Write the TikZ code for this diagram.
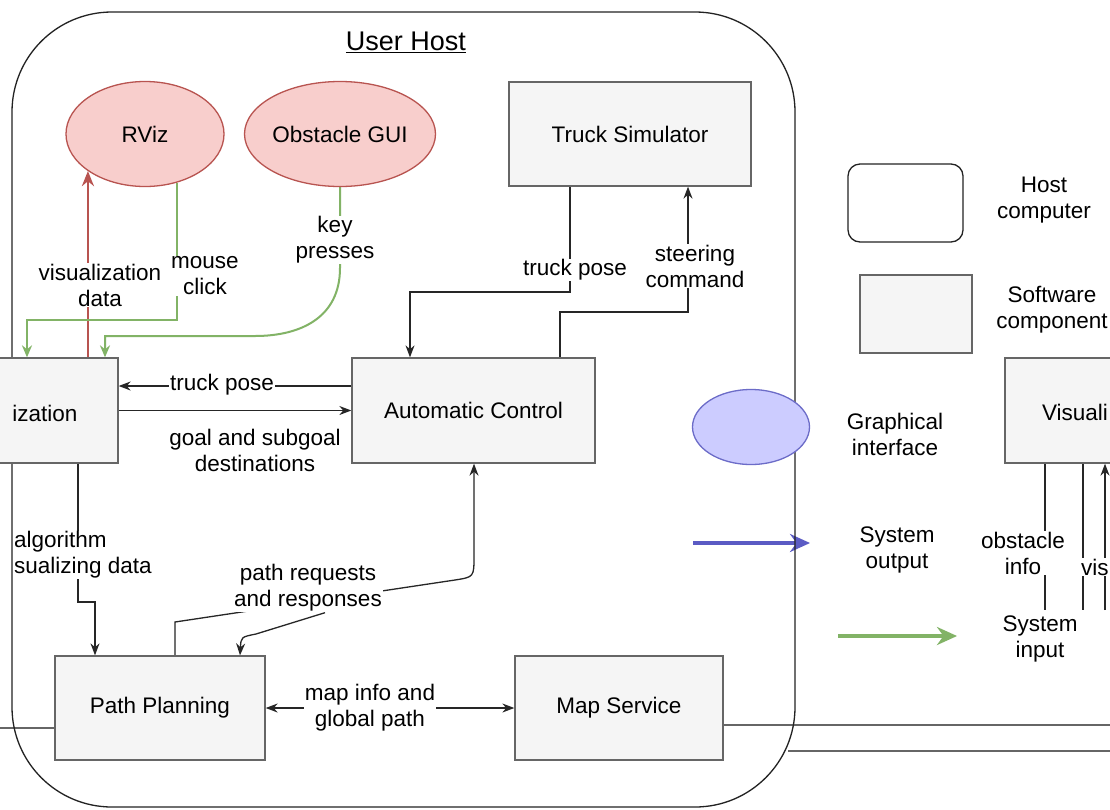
\documentclass[tikz,border=0pt]{standalone}
\usepackage{fontspec}
\setmainfont{Liberation Sans}
\usetikzlibrary{arrows.meta,shapes.geometric,backgrounds}

\definecolor{compfill}{HTML}{F5F5F5}
\definecolor{compline}{HTML}{666666}
\definecolor{guifill}{HTML}{F8CECC}
\definecolor{guiline}{HTML}{B85450}
\definecolor{ifacefill}{HTML}{CCCCFF}
\definecolor{ifaceline}{HTML}{6C6CC8}
\definecolor{outblue}{HTML}{5B5BC4}
\definecolor{ingreen}{HTML}{82B366}
\definecolor{hostline}{HTML}{222222}

\begin{document}
\begin{tikzpicture}[x=1pt, y=-1pt,
  every node/.style={font=\fontsize{22.5}{26}\selectfont, text=black},
  host/.style={draw=hostline, line width=1.3pt, rounded corners=#1, inner sep=0pt},
  comp/.style={draw=compline, fill=compfill, line width=1.3pt, inner sep=0pt, align=center},
  gui/.style={ellipse, draw=guiline, fill=guifill, line width=1.3pt, inner sep=0pt,
              minimum width=158pt, minimum height=105pt},
  lbl/.style={fill=white, inner sep=1pt, align=center},
  wire/.style={draw=black!85, line width=1.3pt},
  arr/.style={wire, -{Stealth[length=12pt,width=9pt]}},
  biarr/.style={wire, {Stealth[length=12pt,width=9pt]}-{Stealth[length=12pt,width=9pt]}},
  inwire/.style={draw=ingreen, line width=2pt},
  inarr/.style={inwire, -{Stealth[length=12pt,width=10pt]}},
  redarr/.style={draw=guiline, line width=2.6pt, -{Stealth[length=15pt,width=12pt]}},
  bus/.style={draw=compline, line width=1.3pt},
  legout/.style={draw=outblue, line width=3.5pt, -{Stealth[length=20pt,width=18pt]}},
  legin/.style={draw=ingreen, line width=3.5pt, -{Stealth[length=20pt,width=18pt]}}]

\path[use as bounding box] (0,0) rectangle (1110,809);
\clip (0,0) rectangle (1110,809);

% ---------- user host container ----------
\node[host=100pt, minimum width=783pt, minimum height=795pt] (userhost) at (403.5,409.5) {};
\node[font=\fontsize{27}{32}\selectfont] (uhtitle) at (406,42) {\underline{User Host}};

% ---------- interfaces and components ----------
\node[gui] (rviz) at (145,134) {RViz};
\node[gui] (obst) at (340,134) {Obstacle GUI};
\node[comp, minimum width=242pt, minimum height=104pt] (ts) at (630,134) {Truck Simulator};
\node[comp, minimum width=210pt, minimum height=105pt] (visL) at (13,410.5) {};
\node (visLtxt) at (45,413) {ization};
\node[comp, minimum width=243pt, minimum height=105pt] (ac) at (473.5,410.5) {Automatic Control};
\node[comp, minimum width=210pt, minimum height=104pt] (pp) at (160,708) {Path Planning};
\node[comp, minimum width=208pt, minimum height=104pt] (ms) at (619,708) {Map Service};
\node[comp, minimum width=210pt, minimum height=105pt] (visR) at (1110,410.5) {};
\node (visRtxt) at (1075,412) {Visuali};

% ---------- connector labels ----------
\node[lbl] (vdlbl) at (100,285) {visualization\\data};
\node[lbl] (mclbl) at (205,276) {mouse\\click};
\node[lbl] (kplbl) at (335,240) {key\\presses};
\node[lbl] (tptop) at (575,270) {truck pose};
\node[lbl] (sclbl) at (695,266) {steering\\command};
\node[lbl] (tplbl) at (222,385) {truck pose};
\node[lbl] (gllbl) at (255,450) {goal and subgoal\\destinations};
\node[lbl, align=left, anchor=west] (allblL) at (13,555) {algorithm\\sualizing data};
\node[lbl, anchor=west] (allblR) at (1080,567) {vis};
\node[lbl] (oblbl) at (1023,553) {obstacle\\info};
\node[lbl] (prlbl) at (308,588) {path requests\\and responses};
\node[lbl] (milbl) at (370,708) {map info and\\global path};

% ---------- legend ----------
\node[host=12pt, minimum width=115pt, minimum height=78pt] (leghost) at (905.5,203) {};
\node (leghosttxt) at (1044,200) [align=center] {Host\\computer};
\node[comp, minimum width=112pt, minimum height=78pt] (legcomp) at (916,314) {};
\node (legcomptxt) at (1052,310) [align=center] {Software\\component};
\node[ellipse, draw=ifaceline, fill=ifacefill, line width=1.3pt, inner sep=0pt,
      minimum width=117pt, minimum height=75pt] (legif) at (751,427) {};
\node (legiftxt) at (895,434) [align=center] {Graphical\\interface};
\coordinate (outA) at (693,543);
\coordinate (outB) at (810,543);
\node (legouttxt) at (897,550) [align=center] {System\\output};
\coordinate (inA) at (838,636);
\coordinate (inB) at (957,636);
\node (legintxt) at (1040,639) [align=center] {System\\input};

\begin{pgfonlayer}{background}
  \fill[white] (0,0) rectangle (1110,809);

  % legend arrows
  \draw[legout] (outA) -- (outB);
  \draw[legin] (inA) -- (inB);

  % RViz <-> Visualization
  \draw[redarr] (rviz.213 |- visL.north) -- (rviz.213);
  \coordinate (mcTurn) at (27,320);
  \draw[inarr] (rviz.303) |- (mcTurn) -- (mcTurn |- visL.north);

  % Obstacle GUI key presses
  \coordinate (kpA) at (340,268);
  \coordinate (kpB) at (255,336);
  \coordinate (kpC) at (105,336);
  \draw[inarr] (obst.south) -- (kpA) .. controls (340,318) and (300,336) .. (kpB)
               -- (kpC) -- (kpC |- visL.north);

  % Truck Simulator <-> Automatic Control
  \coordinate (tpA) at (570,292);
  \coordinate (tpB) at (410,292);
  \draw[arr] (tpA |- ts.south) -- (tpA) -- (tpB) -- (tpB |- ac.north);
  \coordinate (scA) at (560,312);
  \coordinate (scB) at (688,312);
  \draw[arr] (scA |- ac.north) -- (scA) -- (scB) -- (scB |- ts.south);

  % Visualization <-> Automatic Control
  \draw[arr] ([yshift=24.5pt]ac.west) -- ([yshift=24.5pt]visL.east);
  \draw[arr] (visL.east) -- (ac.west);

  % Visualization -> Path Planning
  \coordinate (alA) at (78,602);
  \coordinate (alB) at (95,602);
  \draw[arr] (alA |- visL.south) -- (alA) -- (alB) -- (alB |- pp.north);

  % path requests and responses
  \coordinate (prA) at (175,622);
  \coordinate (prB) at (455,580);
  \coordinate (prC) at (474,556);
  \draw[arr] (prA |- pp.north) -- (prA) -- (prB) .. controls (474,577) .. (prC) -- (prC |- ac.south);
  \draw[arr] ([xshift=17pt]prlbl.south) -- (256,634) .. controls (241,637) .. ([xshift=80pt]pp.north);

  % map info and global path
  \draw[biarr] (pp.east) -- (ms.west);

  % links leaving the host
  \draw[bus] ([yshift=-17pt]ms.east) -- ([yshift=-17pt]ms.east -| visR.east);
  \coordinate (busB) at (788,751);
  \draw[bus] (busB) -- (busB -| visR.east);
  \coordinate (busC) at (0,728);
  \draw[bus] (busC) -- (busC -| pp.west);

  % lines below Visualization
  \coordinate (obA) at (1045,610);
  \draw[wire] (obA |- visR.south) -- (obA);
  \coordinate (vzA) at (1083,610);
  \draw[wire] (vzA |- visR.south) -- (vzA);
  \coordinate (vzB) at (1105,610);
  \draw[arr] (vzB) -- (vzB |- visR.south);
\end{pgfonlayer}
\end{tikzpicture}
\end{document}
